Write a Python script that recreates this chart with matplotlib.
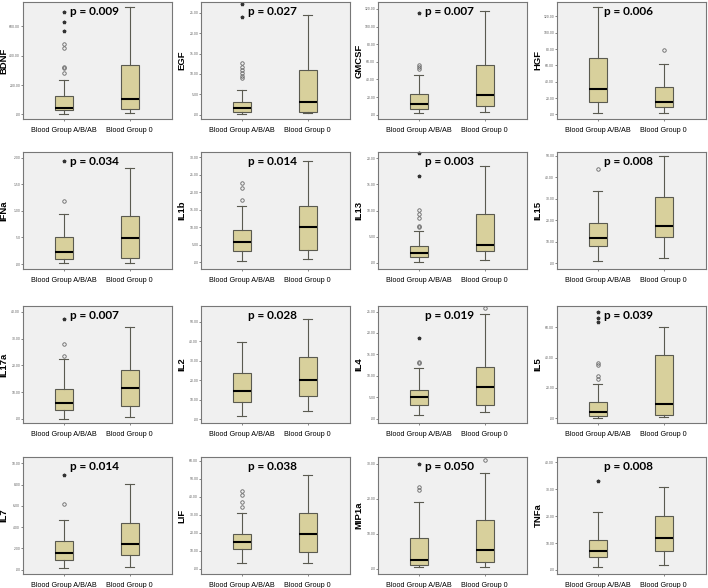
import matplotlib
matplotlib.use('Agg')
import matplotlib.pyplot as plt
import numpy as np

# analytes and p-values (reading order: row by row)
markers = ['BDNF', 'EGF', 'GMCSF', 'HGF', 'IFNa', 'IL1b', 'IL13', 'IL15',
           'IL17a', 'IL2', 'IL4', 'IL5', 'IL7', 'LIF', 'MIP1a', 'TNFa']
p_values = ['0.009', '0.027', '0.007', '0.006', '0.034', '0.014', '0.003', '0.008',
            '0.007', '0.028', '0.019', '0.039', '0.014', '0.038', '0.050', '0.008']
groups = ['Blood Group A/B/AB', 'Blood Group 0']

# Blood group A/B/AB box statistics
whislo_a = [2, 0.1, 1.5, 1.6, 0.01, 0.3, 0.19, 1.1, 0.1, 1.5, 0.9, 0, 0.2, 3, 0.5, 1]
q1_a = [31, 0.7, 6.3, 15.6, 0.094, 3.3, 1.06, 7.8, 3.4, 8.6, 3.2, 1.1, 0.9, 11, 1, 5]
med_a = [47, 1.5, 11.9, 31.6, 0.23, 5.9, 1.86, 11.8, 5.8, 14.4, 5.1, 3.9, 1.6, 15, 2.5, 7]
q3_a = [124, 3.0, 23.7, 69.6, 0.5, 9.1, 3.29, 18.8, 11.1, 23.7, 6.6, 10.5, 2.7, 19, 8.8, 11]
whishi_a = [231, 6.1, 45.6, 131.2, 0.94, 16.2, 6.02, 33.6, 22.4, 39.7, 11.9, 22.7, 4.7, 31, 19, 21.5]
outliers_a = [[280, 313, 324, 453, 480], [9.0, 9.6, 10.2, 11.0, 11.6, 12.6], [52.2, 54.4, 56.7], [],
              [1.19], [17.9, 21.3, 22.6], [6.9, 7.1, 8.6, 9.4, 10.1], [43.7],
              [23.4, 27.9], [], [12.9, 13.2], [26, 28, 35, 36.7],
              [6.2], [34, 37, 41, 43], [22.5, 23.5], []]
extremes_a = [[569, 627, 693], [24.1, 27.3], [114.8], [], [1.94], [], [16.6, 21.1], [],
              [37.5], [], [18.8], [63.8, 66, 70], [8.9], [], [30], [33]]

# Blood group 0 box statistics
whislo_o = [9, 0.3, 2.6, 1.6, 0.01, 1.0, 0.5, 2.4, 0.7, 4.1, 1.5, 0.4, 0.3, 3, 0.5, 2]
q1_o = [36, 0.6, 10.4, 8.8, 0.106, 3.5, 2.2, 12.1, 5.0, 11.7, 3.2, 1.7, 1.4, 9, 2, 7]
med_o = [104, 3.0, 22.2, 15.2, 0.49, 10.0, 3.4, 17.3, 11.4, 20.3, 7.5, 9.2, 2.4, 19, 5.5, 12]
q3_o = [336, 10.9, 56.3, 34, 0.9, 16.1, 9.3, 30.9, 18.3, 31.9, 12.0, 41.7, 4.4, 31, 14, 20]
whishi_o = [731, 24.5, 117.8, 62, 1.81, 28.9, 18.6, 49.7, 34.3, 51.5, 24.4, 60.5, 8.1, 52, 27.5, 31]
outliers_o = [[], [], [], [78.4], [], [], [], [], [], [], [25.8], [], [], [], [31], []]

# y axis ranges and tick steps
y_low = [-31, -1.1, -4.8, -5.6, -0.094, -1.9, -1.2, -2.75, -1.5, -2.0, -1.0, -3.3, -0.4, -3, -1.5, -1.5]
y_high = [764, 27.7, 127.8, 137.6, 2.11, 31.5, 21.2, 51.7, 42.2, 58.1, 26.3, 74.2, 10.6, 62, 32, 42]
y_step = [200, 5, 20, 20, 0.5, 5, 5, 10, 10, 10, 5, 20, 2, 10, 10, 10]

BOX_COLOR = '#d8d09c'
EDGE = '#5a5a50'


def spss_fmt(v):
    s = f'{v:.2f}'
    return s[1:] if s.startswith('0') else s


fig = plt.figure(figsize=(7.08, 5.88), dpi=100)
fig.patch.set_facecolor('white')

col_left = [23, 201, 378, 557]
row_top = [2, 152, 306, 457]
ax_w, ax_h = 149, 117

for i, name in enumerate(markers):
    r, c = divmod(i, 4)
    ax = fig.add_axes([col_left[c] / 708, 1 - (row_top[r] + ax_h) / 588,
                       ax_w / 708, ax_h / 588])
    ax.set_facecolor('#f0f0f0')

    stats = [
        dict(med=med_a[i], q1=q1_a[i], q3=q3_a[i], whislo=whislo_a[i],
             whishi=whishi_a[i], fliers=outliers_a[i]),
        dict(med=med_o[i], q1=q1_o[i], q3=q3_o[i], whislo=whislo_o[i],
             whishi=whishi_o[i], fliers=outliers_o[i]),
    ]
    ax.bxp(stats, positions=[1, 2], widths=0.27, patch_artist=True,
           boxprops=dict(facecolor=BOX_COLOR, edgecolor=EDGE, linewidth=0.8),
           medianprops=dict(color='black', linewidth=1.5),
           whiskerprops=dict(color=EDGE, linewidth=0.8),
           capprops=dict(color=EDGE, linewidth=0.8),
           flierprops=dict(marker='o', markersize=2.5, markerfacecolor='none',
                           markeredgecolor='#666666', markeredgewidth=0.6))
    if extremes_a[i]:
        ax.plot([1] * len(extremes_a[i]), extremes_a[i], linestyle='none',
                marker='*', markersize=2.5, color='#333333', clip_on=False)

    ax.set_xlim(0.38, 2.64)
    ax.set_ylim(y_low[i], y_high[i])
    ticks = np.arange(0, y_high[i] + 1e-9, y_step[i])
    ax.set_yticks(ticks)
    ax.set_yticklabels([spss_fmt(t) for t in ticks], fontsize=2.2, color='#555555')
    ax.set_xticks([1, 2])
    ax.set_xticklabels(groups, fontsize=5.2, family='Liberation Sans')
    ax.tick_params(axis='y', length=1.2, width=0.5, color='#555555', pad=0.8)
    ax.tick_params(axis='x', length=1.5, width=0.5, color='#555555', pad=4)
    for sp in ax.spines.values():
        sp.set_color('#777777')
        sp.set_linewidth(0.8)

    ax.set_ylabel(name, fontsize=6.8, fontweight='bold', family='Liberation Sans',
                  va='center')
    ax.yaxis.set_label_coords(-0.128, 0.5)
    ax.text(0.48, 0.92, f'p = {p_values[i]}', transform=ax.transAxes,
            ha='center', va='center', fontsize=8.5, fontweight='bold', family='Lato')

fig.savefig('out.png', dpi=100, facecolor='white')
